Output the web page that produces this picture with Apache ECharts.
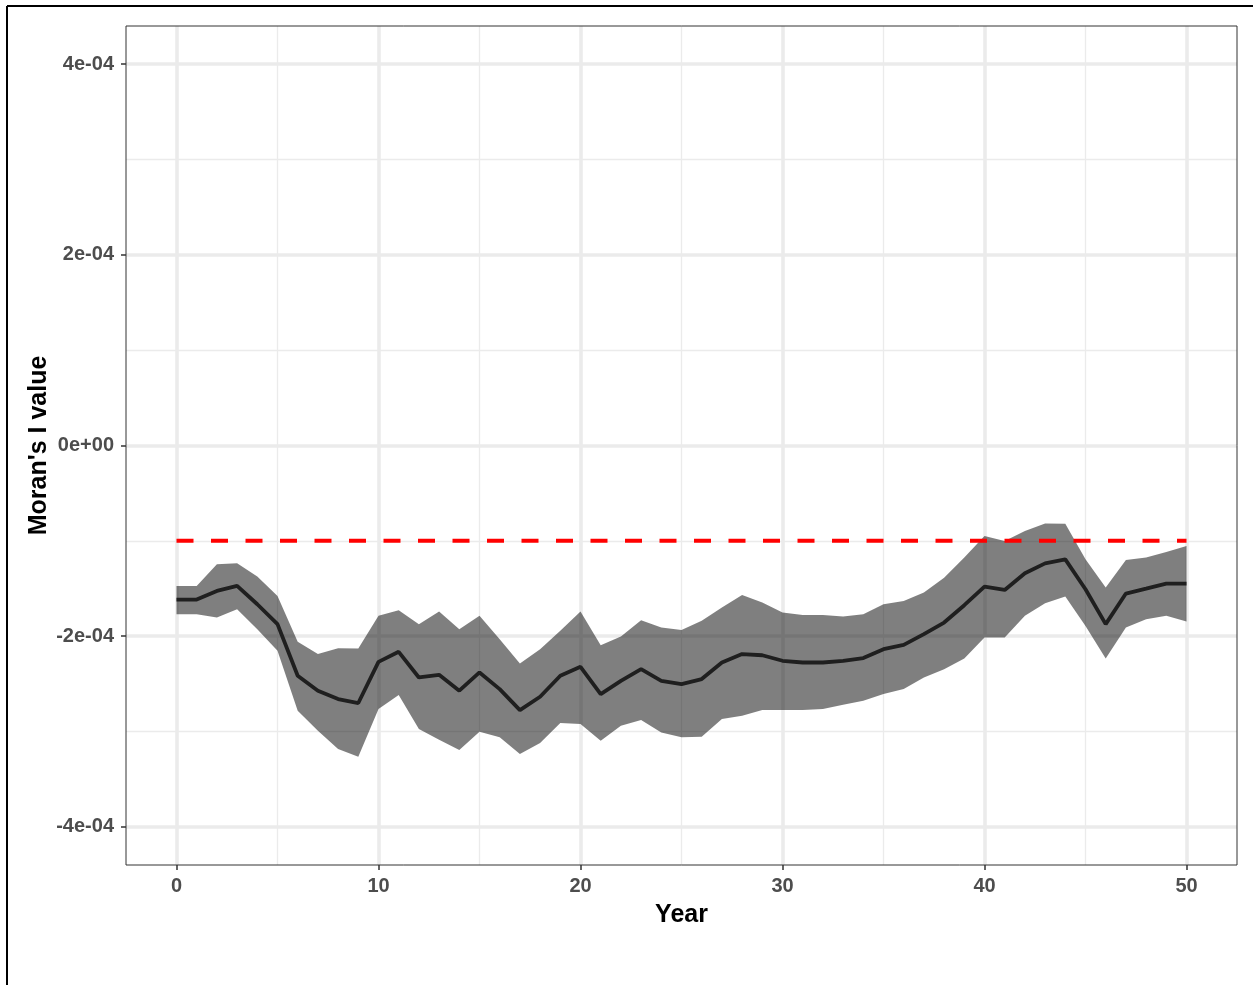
<!DOCTYPE html>
<html>
<head>
<meta charset="utf-8">
<script src="https://cdn.jsdelivr.net/npm/echarts@6/dist/echarts.min.js"></script>
<style>
html,body{margin:0;padding:0;background:#fff;}
#chart{width:1253px;height:985px;}
</style>
</head>
<body>
<div id="chart"></div>
<script>
// ---- data ----
const years = [0,1,2,3,4,5,6,7,8,9,10,11,12,13,14,15,16,17,18,19,20,21,22,23,24,25,26,27,28,29,30,31,32,33,34,35,36,37,38,39,40,41,42,43,44,45,46,47,48,49,50];
const meanI = [-1.616,-1.616,-1.525,-1.473,-1.665,-1.874,-2.415,-2.572,-2.660,-2.701,-2.269,-2.164,-2.433,-2.405,-2.572,-2.380,-2.555,-2.775,-2.635,-2.415,-2.321,-2.607,-2.468,-2.346,-2.468,-2.503,-2.450,-2.276,-2.188,-2.200,-2.258,-2.276,-2.276,-2.258,-2.230,-2.136,-2.091,-1.979,-1.857,-1.675,-1.480,-1.515,-1.340,-1.236,-1.194,-1.508,-1.874,-1.553,-1.501,-1.448,-1.448];
const upperI = [-1.473,-1.473,-1.246,-1.236,-1.375,-1.578,-2.059,-2.188,-2.126,-2.129,-1.787,-1.728,-1.874,-1.742,-1.927,-1.787,-2.031,-2.286,-2.136,-1.944,-1.742,-2.094,-2.003,-1.832,-1.909,-1.934,-1.839,-1.700,-1.567,-1.647,-1.752,-1.777,-1.777,-1.794,-1.770,-1.665,-1.630,-1.542,-1.386,-1.176,-0.950,-1.002,-0.897,-0.817,-0.820,-1.194,-1.490,-1.201,-1.176,-1.117,-1.054];
const lowerI = [-1.770,-1.770,-1.805,-1.717,-1.927,-2.154,-2.782,-2.991,-3.183,-3.264,-2.764,-2.618,-2.974,-3.086,-3.194,-3.002,-3.061,-3.236,-3.120,-2.911,-2.922,-3.096,-2.939,-2.880,-3.009,-3.061,-3.054,-2.869,-2.834,-2.775,-2.775,-2.775,-2.764,-2.719,-2.677,-2.607,-2.555,-2.433,-2.346,-2.234,-2.014,-2.014,-1.787,-1.654,-1.585,-1.892,-2.234,-1.909,-1.822,-1.787,-1.846];
const valueScale = 1e-4;          // values above are in units of 1e-4
const expectedI = -1e-4;          // red dashed reference line
const xMajorTicks = [0,10,20,30,40,50];
const xMinorTicks = [5,15,25,35,45];
const yMajorTicks = [-4e-4,-2e-4,0,2e-4,4e-4];
const yMinorTicks = [-3e-4,-1e-4,1e-4,3e-4];
const yTickLabels = ['-4e-04','-2e-04','0e+00','2e-04','4e-04'];

// ---- build ----
const bandData = years.map((y,i)=>[y, lowerI[i]*valueScale, upperI[i]*valueScale]);
const meanData = years.map((y,i)=>[y, meanI[i]*valueScale]);
const refData = [[years[0], expectedI],[years[years.length-1], expectedI]];

const gridColor = '#EBEBEB';
const gridMarks = [];
xMinorTicks.forEach(v=>gridMarks.push({xAxis:v, lineStyle:{width:1.3,color:gridColor,type:'solid'}}));
yMinorTicks.forEach(v=>gridMarks.push({yAxis:v, lineStyle:{width:1.3,color:gridColor,type:'solid'}}));
xMajorTicks.forEach(v=>gridMarks.push({xAxis:v, lineStyle:{width:3.6,color:gridColor,type:'solid'}}));
yMajorTicks.forEach(v=>gridMarks.push({yAxis:v, lineStyle:{width:3.6,color:gridColor,type:'solid'}}));

const chart = echarts.init(document.getElementById('chart'), null, {renderer:'canvas'});
const font = '"Liberation Sans", Arial, Helvetica, sans-serif';

chart.setOption({
  animation:false,
  backgroundColor:'#ffffff',
  grid:{left:126, right:16, top:26, bottom:120, show:true, borderColor:'#333333', borderWidth:1, backgroundColor:'transparent', z:10},
  xAxis:{
    type:'value', min:-2.5, max:52.5,
    name:'Year', nameLocation:'middle', nameGap:38, nameMoveOverlap:false,
    nameTextStyle:{fontFamily:font, fontSize:25, fontWeight:'bold', color:'#000'},
    axisLine:{show:false, onZero:false},
    axisTick:{show:true, length:5, customValues:xMajorTicks, lineStyle:{color:'#333333', width:1.5}},
    axisLabel:{customValues:xMajorTicks, margin:11, fontFamily:font, fontSize:20, fontWeight:'bold', color:'#4D4D4D'},
    splitLine:{show:false}
  },
  yAxis:{
    type:'value', min:-4.4e-4, max:4.4e-4,
    name:"Moran's I value", nameLocation:'middle', nameGap:74, nameRotate:90, nameMoveOverlap:false,
    nameTextStyle:{fontFamily:font, fontSize:25, fontWeight:'bold', color:'#000'},
    axisLine:{show:false, onZero:false},
    axisTick:{show:true, length:5, customValues:yMajorTicks, lineStyle:{color:'#333333', width:1.5}},
    axisLabel:{customValues:yMajorTicks, margin:12, fontFamily:font, fontSize:20, fontWeight:'bold', color:'#4D4D4D',
      formatter:function(v){
        let best=0, d=Infinity;
        yMajorTicks.forEach((t,i)=>{const dd=Math.abs(t-v); if(dd<d){d=dd;best=i;}});
        return yTickLabels[best];
      }},
    splitLine:{show:false}
  },
  graphic:[
    {type:'line', shape:{x1:7,y1:6,x2:1253,y2:6}, style:{stroke:'#000',lineWidth:2}, z:100},
    {type:'line', shape:{x1:7,y1:6,x2:7,y2:985}, style:{stroke:'#000',lineWidth:2}, z:100}
  ],
  series:[
    {
      type:'line', data:[], z:0, silent:true,
      markLine:{silent:true, z:0, precision:12, symbol:['none','none'], label:{show:false}, data:gridMarks, animation:false}
    },
    {
      type:'custom', z:3, silent:true,
      data:bandData,
      encode:{x:0, y:[1,2]},
      renderItem:function(params, api){
        if(params.dataIndex!==0) return null;
        const top=[], bot=[];
        for(let i=0;i<bandData.length;i++){
          top.push(api.coord([bandData[i][0], bandData[i][2]]));
          bot.push(api.coord([bandData[i][0], bandData[i][1]]));
        }
        return {type:'polygon', shape:{points:top.concat(bot.reverse())}, style:{fill:'rgba(0,0,0,0.5)'}};
      }
    },
    {
      type:'line', z:4, data:meanData, showSymbol:false, symbol:'none',
      lineStyle:{color:'#1f1f1f', width:3.8}, silent:true
    },
    {
      type:'line', z:5, data:refData, showSymbol:false, symbol:'none',
      lineStyle:{color:'#FF0000', width:4, type:[17,17.5]}, silent:true
    }
  ]
});
</script>
</body>
</html>
